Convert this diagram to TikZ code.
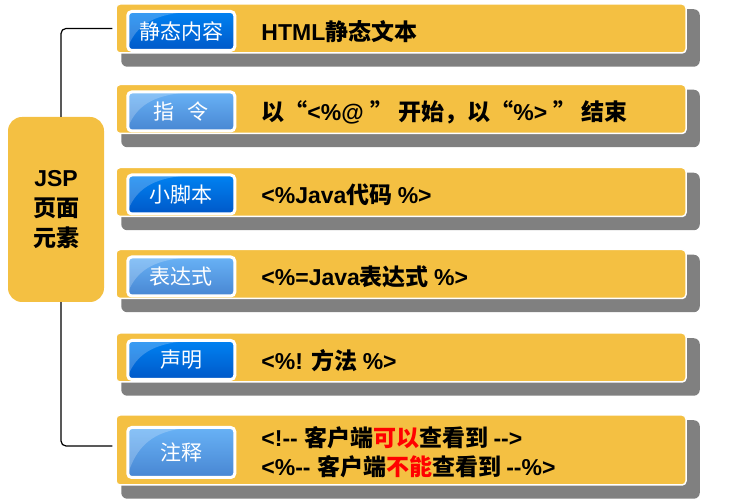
\documentclass[tikz,border=0pt]{standalone}
\usepackage{fontspec}
\usepackage{tikz}
\usetikzlibrary{calc,backgrounds}
\setmainfont{Liberation Sans}
\newfontfamily\cjk{Noto Sans CJK SC}
\newfontfamily\latn{Liberation Sans}
\newcommand{\lw}[1]{{\latn #1}}
\definecolor{barfill}{RGB}{244,192,66}
\definecolor{shadowgray}{RGB}{128,128,128}
\definecolor{darktop}{RGB}{0,130,242}
\definecolor{darkbot}{RGB}{0,88,200}
\definecolor{lighttop}{RGB}{104,178,246}
\definecolor{lightbot}{RGB}{72,134,210}
\tikzset{
    bar/.style={draw=white, line width=1.5pt, fill=barfill, rounded corners=4pt,
        minimum width=570pt, minimum height=49pt, inner sep=0pt},
    tag/.style={draw=white, line width=3pt, rounded corners=4pt, inner sep=0pt,
        minimum width=107pt, minimum height=39pt, text=white,
        font=\cjk\fontsize{21}{24}\selectfont},
    darktag/.style={tag, top color=darktop, bottom color=darkbot},
    lighttag/.style={tag, top color=lighttop, bottom color=lightbot},
    entry/.style={anchor=west, align=left, inner sep=0pt,
        font=\cjk\bfseries\fontsize{23}{29}\selectfont}
}
\begin{document}
\begin{tikzpicture}[x=1pt,y=1pt]
    \useasboundingbox (0,0) rectangle (741,500);
    % root
    \node[fill=barfill, rounded corners=14pt, minimum width=96pt, minimum height=185pt,
        align=center, font=\cjk\bfseries\fontsize{23}{30}\selectfont]
        (root) at (56,290.5) {\lw{JSP}\\页面\\元素};
    % bars
    \node[bar] (bar1) at (401,471.5) {};
    \node[bar] (bar2) at (401,391) {};
    \node[bar] (bar3) at (401,308) {};
    \node[bar] (bar4) at (401,226) {};
    \node[bar] (bar5) at (401,142.5) {};
    \node[bar, minimum height=70pt] (bar6) at (401,50) {};
    % tags
    \node[darktag] (tag1) at ([xshift=66pt,yshift=-2.5pt]bar1.west) {静态内容};
    \node[lighttag] (tag2) at ([xshift=66pt,yshift=-2.5pt]bar2.west) {指\hspace{0.6em}令};
    \node[darktag] (tag3) at ([xshift=66pt,yshift=-2.5pt]bar3.west) {小脚本};
    \node[lighttag] (tag4) at ([xshift=66pt,yshift=-2.5pt]bar4.west) {表达式};
    \node[darktag] (tag5) at ([xshift=66pt,yshift=-2.5pt]bar5.west) {声明};
    \node[lighttag, minimum height=50pt] (tag6) at ([xshift=66pt,yshift=-2.5pt]bar6.west) {注释};
    \foreach \i in {1,...,6}
        \fill[white, opacity=.22]
            ([shift={(2pt,-2pt)}]tag\i.north west)
            -- ([shift={(2pt,6pt)}]tag\i.south west)
            .. controls ([shift={(10pt,4pt)}]tag\i.west) and ([shift={(-30pt,-4pt)}]tag\i.north)
            .. ([shift={(8pt,-2pt)}]tag\i.north) -- cycle;
    % texts
    \node[entry] (txt1) at ([xshift=146pt,yshift=-3pt]bar1.west) {\lw{HTML}静态文本};
    \node[entry] (txt2) at ([xshift=146pt,yshift=-3pt]bar2.west)
        {以“\lw{<\%@ }” 开始，以“\lw{\%> }” 结束};
    \node[entry] (txt3) at ([xshift=146pt,yshift=-3pt]bar3.west) {\lw{<\%Java}代码 \lw{\%>}};
    \node[entry] (txt4) at ([xshift=146pt,yshift=-3pt]bar4.west) {\lw{<\%=Java}表达式 \lw{\%>}};
    \node[entry] (txt5) at ([xshift=146pt,yshift=-3pt]bar5.west) {\lw{<\%! }方法 \lw{\%>}};
    \node[entry] (txt6) at ([xshift=146pt,yshift=-2pt]bar6.west)
        {\lw{<!{-}{-} }客户端\textcolor{red}{可以}查看到 \lw{{-}{-}>}\\
         \lw{<\%{-}{-} }客户端\textcolor{red}{不能}查看到 \lw{{-}{-}\%>}};
    % connectors
    \draw[line width=1.2pt, rounded corners=5pt] ([xshift=5pt]root.north) |- ([xshift=-3pt]bar1.west);
    \draw[line width=1.2pt, rounded corners=5pt] ([xshift=5pt]root.south) |- ([xshift=-3pt,yshift=4pt]bar6.west);
    % shadows
    \begin{scope}[on background layer]
        \foreach \i in {1,...,6}
            \fill[shadowgray, rounded corners=6pt]
                ([shift={(6pt,-6pt)}]bar\i.north west) rectangle ([shift={(13pt,-13pt)}]bar\i.south east);
    \end{scope}
\end{tikzpicture}
\end{document}
